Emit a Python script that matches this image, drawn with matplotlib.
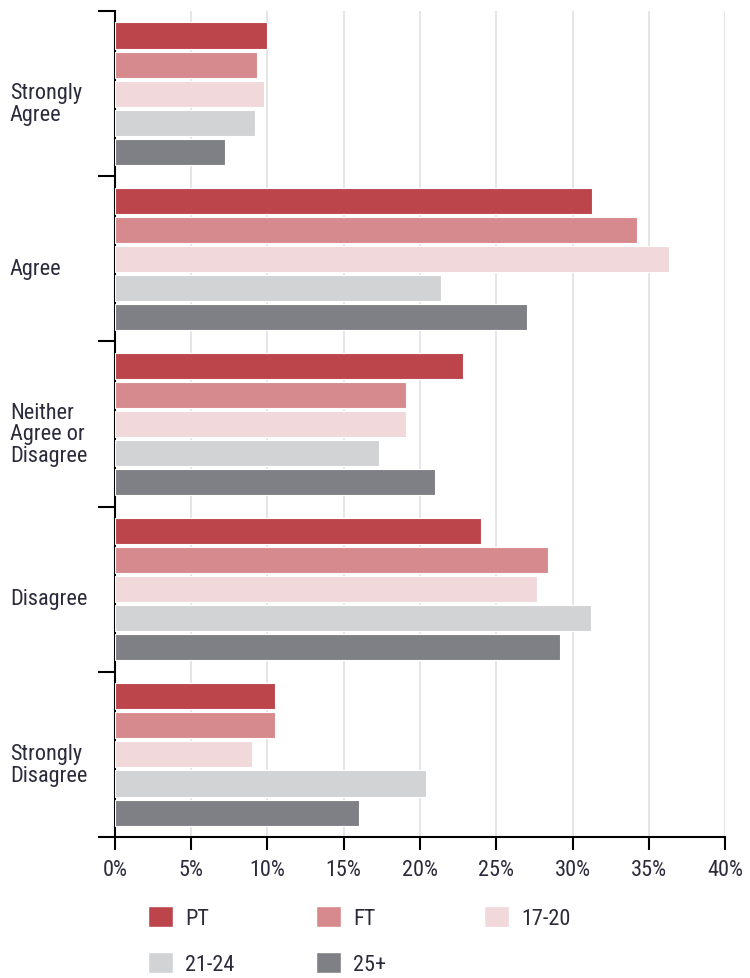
import numpy as np
import matplotlib.pyplot as plt
import matplotlib.transforms as mtransforms
from matplotlib.patches import Patch

plt.rcParams['font.family'] = ['Roboto Condensed', 'Liberation Sans Narrow', 'Roboto', 'DejaVu Sans']

categories = ['Strongly\nAgree', 'Agree', 'Neither\nAgree or\nDisagree', 'Disagree', 'Strongly\nDisagree']
series = ['PT', 'FT', '17-20', '21-24', '25+']
values = {
    'PT':    [10.0, 31.3, 22.8, 24.0, 10.5],
    'FT':    [9.3, 34.2, 19.1, 28.4, 10.5],
    '17-20': [9.8, 36.3, 19.1, 27.7, 9.0],
    '21-24': [9.2, 21.4, 17.3, 31.2, 20.4],
    '25+':   [7.2, 27.0, 21.0, 29.2, 16.0],
}
xticks = [0, 5, 10, 15, 20, 25, 30, 35, 40]

colors = {'PT': '#bb454b', 'FT': '#d78a8d', '17-20': '#f1d8da',
          '21-24': '#d2d3d5', '25+': '#7f8085'}
text_color = '#2b2b3b'

fig = plt.figure(figsize=(7.5, 9.79), dpi=100)
ax = fig.add_axes([0.1533, 0.144, 0.8134, 0.8437])

y = np.arange(len(categories))
pitch = 0.176
height = 0.158
for i, s in enumerate(series):
    ax.barh(y + (i - 2) * pitch, values[s], height=height, color=colors[s],
            edgecolor='white', linewidth=0.8, zorder=3)

ax.set_xlim(0, 40)
ax.set_ylim(len(categories) - 0.5, -0.5)

ax.set_xticks(xticks)
ax.set_xticklabels([f'{t}%' for t in xticks], fontsize=16, color=text_color)
ax.tick_params(axis='x', length=9, width=1.5, color='black', pad=7)
ax.xaxis.grid(True, color='#e6e6e6', linewidth=1.4, zorder=0)

# category labels sit left-aligned at the figure's left margin
ax.set_yticks(y)
ax.set_yticklabels(categories, fontsize=16, color=text_color, ha='left',
                   linespacing=1.05)
ax.tick_params(axis='y', which='major', length=0, pad=75.6)
shift = mtransforms.ScaledTranslation(0, -5 / 72, fig.dpi_scale_trans)
for lbl in ax.get_yticklabels():
    lbl.set_transform(lbl.get_transform() + shift)
ax.set_yticks(np.arange(len(categories) + 1) - 0.5, minor=True)
ax.tick_params(axis='y', which='minor', length=12.5, width=1.5, color='black')

for side in ['top', 'right']:
    ax.spines[side].set_visible(False)
for side in ['left', 'bottom']:
    ax.spines[side].set_linewidth(1.5)

# legend laid out on a fixed grid: three per row
x0, y0 = 148 / 750, 1 - 907 / 979
dx, dy = 168 / 750, 46 / 979
for k, s in enumerate(series):
    row, col = divmod(k, 3)
    fig.legend(handles=[Patch(facecolor=colors[s], edgecolor='white', label=s)],
               loc='upper left', bbox_to_anchor=(x0 + col * dx, y0 - row * dy),
               frameon=False, fontsize=16, borderpad=0, borderaxespad=0,
               handlelength=1.13, handleheight=1.1, handletextpad=0.55,
               labelcolor=text_color)

fig.savefig('out.png', dpi=100)
